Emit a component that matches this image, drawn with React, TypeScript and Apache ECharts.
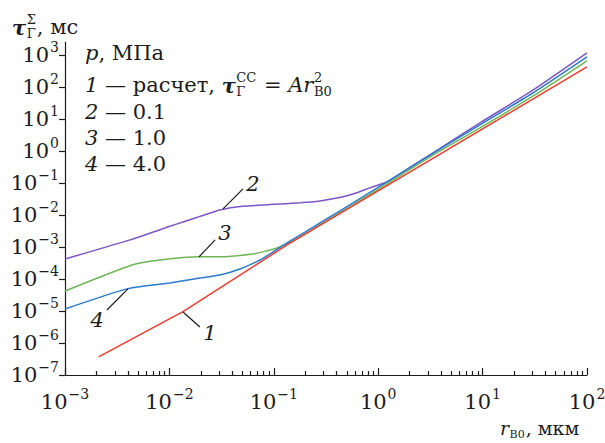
import React, { useEffect, useRef } from "react";
import * as echarts from "echarts";

// ---------- data ----------
const xTickValues = [1e-3, 1e-2, 1e-1, 1, 10, 100];
const xMinorTickValues = [
  0.002, 0.003, 0.004, 0.005, 0.006, 0.007, 0.008, 0.009,
  0.02, 0.03, 0.04, 0.05, 0.06, 0.07, 0.08, 0.09,
  0.2, 0.3, 0.4, 0.5, 0.6, 0.7, 0.8, 0.9,
  2, 3, 4, 5, 6, 7, 8, 9,
  20, 30, 40, 50, 60, 70, 80, 90,
];
const yTickValues = [1e-7, 1e-6, 1e-5, 1e-4, 1e-3, 1e-2, 1e-1, 1, 10, 100, 1000];

// curve 1: calculation tau = A r^2
const curve1X = [0.0021, 0.0135, 0.134, 100];
const curve1Y = [3.7e-7, 9.5e-6, 1.15e-3, 420];

// curve 2: p = 0.1 MPa
const curve2X = [0.001, 0.0042, 0.0101, 0.0135, 0.0196, 0.0305, 0.05, 0.092, 0.18, 0.277, 0.45, 0.574, 0.834, 1.21, 1.73, 3.5, 9.44, 30, 100];
const curve2Y = [4.2e-4, 1.66e-3, 4.4e-3, 6.0e-3, 9.0e-3, 1.42e-2, 1.85e-2, 2.1e-2, 2.4e-2, 2.74e-2, 3.6e-2, 4.5e-2, 7.0e-2, 0.107, 0.221, 0.95, 7.5, 77, 1150];

// curve 3: p = 1.0 MPa
const curve3X = [0.001, 0.00438, 0.00813, 0.0196, 0.0305, 0.0632, 0.085, 0.1074, 0.1527, 0.208, 0.3, 0.574, 1.73, 3.5, 9.44, 30, 100];
const curve3Y = [4.2e-5, 2.74e-4, 3.9e-4, 4.9e-4, 4.9e-4, 6.0e-4, 7.5e-4, 9.3e-4, 1.54e-3, 2.74e-3, 5.8e-3, 2.05e-2, 0.191, 0.8, 5.23, 50, 650];

// curve 4: p = 4.0 MPa
const curve4X = [0.001, 0.00393, 0.0101, 0.0196, 0.0305, 0.0474, 0.0738, 0.1, 0.1337, 0.208, 0.3, 0.574, 1.73, 3.5, 9.44, 30, 100];
const curve4Y = [1.15e-5, 4.9e-5, 7.5e-5, 1.07e-4, 1.33e-4, 2.05e-4, 3.9e-4, 7.2e-4, 1.33e-3, 3.16e-3, 6.6e-3, 2.37e-2, 0.221, 0.92, 6.5, 63, 866];

// curve number annotations: leader line start, end, label position
const curveLabels = ["1", "2", "3", "4"];
const leaderStart = [[0.0135, 9.3e-6], [0.0326, 0.0155], [0.0192, 4.87e-4], [0.00401, 4.87e-5]];
const leaderEnd = [[0.0196, 3.16e-6], [0.0507, 0.065], [0.0274, 1.66e-3], [0.00252, 1.07e-5]];
const labelPos = [[0.0245, 2.0e-6], [0.0632, 0.093], [0.0341, 2.74e-3], [0.00203, 5.2e-6]];

const legendTitle = "МПа";
const legendValues = ["0.1", "1.0", "4.0"];

// ---------- style ----------
const SERIF = '"DejaVu Serif", serif';
const INK = "#1c1c1c";
const COLORS = ["#f03c2e", "#7d55c7", "#6fb556", "#2b7bcc"];

function fontOf(kind: string, size: number) {
  const pre = kind === "i" ? "italic " : kind === "bi" ? "italic bold " : "";
  return `${pre}${size}px ${SERIF}`;
}

let measureCtx: CanvasRenderingContext2D | null = null;
function textWidth(t: string, font: string) {
  if (!measureCtx) measureCtx = document.createElement("canvas").getContext("2d");
  if (!measureCtx) return t.length * 10;
  measureCtx.font = font;
  return measureCtx.measureText(t).width;
}

type Piece = { t: string; f?: string; sub?: string; sup?: string };

function mathText(x0: number, y: number, pieces: Piece[], size: number, small: number) {
  const out: any[] = [];
  let x = x0;
  for (const p of pieces) {
    const font = fontOf(p.f || "r", size);
    out.push({
      type: "text", x, y, silent: true,
      style: { text: p.t, font, fill: INK, align: "left", verticalAlign: "middle" },
    });
    x += textWidth(p.t, font);
    if (p.sup || p.sub) {
      let w = 0;
      const sf = fontOf("r", small);
      if (p.sup) {
        out.push({
          type: "text", x: x + 0.5, y: y - size * 0.36, silent: true,
          style: { text: p.sup, font: sf, fill: INK, align: "left", verticalAlign: "middle" },
        });
        w = Math.max(w, textWidth(p.sup, sf));
      }
      if (p.sub) {
        out.push({
          type: "text", x: x + 0.5, y: y + size * 0.32, silent: true,
          style: { text: p.sub, font: sf, fill: INK, align: "left", verticalAlign: "middle" },
        });
        w = Math.max(w, textWidth(p.sub, sf));
      }
      x += w + 1.5;
    }
  }
  return out;
}

function powLabel(value: number) {
  const e = Math.round(Math.log10(value));
  const s = e < 0 ? "−" + String(-e) : String(e);
  return `{b|10}{e|${s}}`;
}

const labelRich = {
  b: { fontFamily: SERIF, fontSize: 21, color: INK, lineHeight: 30 },
  e: { fontFamily: SERIF, fontSize: 14, color: INK, verticalAlign: "top", padding: [0, 0, 0, 1] },
};

export default function App() {
  const ref = useRef<HTMLDivElement>(null);

  useEffect(() => {
    document.body.style.margin = "0";
    document.body.style.overflow = "hidden";
    if (!ref.current) return;
    const chart = echarts.init(ref.current, undefined, { renderer: "svg" });

    const curvesX = [curve1X, curve2X, curve3X, curve4X];
    const curvesY = [curve1Y, curve2Y, curve3Y, curve4Y];
    const order = [1, 2, 3, 0];

    const series = order.map((i) => ({
      type: "line",
      name: curveLabels[i],
      xAxisIndex: 0,
      yAxisIndex: 0,
      data: curvesX[i].map((x, k) => [x, curvesY[i][k]]),
      showSymbol: false,
      symbol: "none",
      smooth: i === 0 ? false : 0.2,
      lineStyle: { color: COLORS[i], width: 1.5 },
      itemStyle: { color: COLORS[i] },
      z: 3,
      markLine: {
        silent: true,
        symbol: ["none", "none"],
        label: { show: false },
        lineStyle: { color: INK, type: "solid", width: 1.2 },
        data: [[{ coord: leaderStart[i] }, { coord: leaderEnd[i] }]],
      },
      markPoint: {
        silent: true,
        symbol: "circle",
        symbolSize: 1,
        itemStyle: { color: "rgba(0,0,0,0)" },
        label: {
          show: true,
          position: "inside",
          formatter: curveLabels[i],
          fontFamily: SERIF,
          fontStyle: "italic",
          fontSize: 21,
          color: INK,
        },
        data: [{ coord: labelPos[i] }],
      },
    }));

    const legendX = 85;
    const legendSize = 21;
    const small = 13;
    const graphic: any[] = [
      ...mathText(12, 27, [{ t: "τ", f: "bi", sub: "Γ", sup: "Σ" }, { t: ", мс" }], 21, small),
      ...mathText(500, 428, [{ t: "r", f: "i", sub: "B0" }, { t: ", мкм" }], 19, 11),
      ...mathText(legendX, 53, [{ t: "p", f: "i" }, { t: ", " + legendTitle }], legendSize, small),
      ...mathText(
        legendX, 85,
        [
          { t: "1", f: "i" },
          { t: " — расчет, " },
          { t: "τ", f: "bi", sub: "Γ", sup: "CC" },
          { t: " = " },
          { t: "A", f: "i" },
          { t: "r", f: "i", sub: "B0", sup: "2" },
        ],
        legendSize, small
      ),
      ...mathText(legendX, 112, [{ t: "2", f: "i" }, { t: " — " + legendValues[0] }], legendSize, small),
      ...mathText(legendX, 138, [{ t: "3", f: "i" }, { t: " — " + legendValues[1] }], legendSize, small),
      ...mathText(legendX, 164, [{ t: "4", f: "i" }, { t: " — " + legendValues[2] }], legendSize, small),
    ];

    const axisLineStyle = { color: INK, width: 1.2 };

    chart.setOption({
      animation: false,
      backgroundColor: "#ffffff",
      grid: { left: 65, right: 18, top: 42, bottom: 68, containLabel: false, outerBoundsMode: "none" },
      xAxis: [
        {
          type: "log",
          logBase: 10,
          min: 1e-3,
          max: 100,
          position: "bottom",
          axisLine: { show: true, onZero: false, lineStyle: axisLineStyle },
          axisTick: { show: true, inside: true, length: 7, lineStyle: axisLineStyle, customValues: xTickValues },
          axisLabel: {
            show: true,
            customValues: xTickValues,
            formatter: powLabel,
            rich: labelRich,
            margin: 12,
          },
          splitLine: { show: false },
          minorTick: { show: false },
        },
        {
          type: "log",
          logBase: 10,
          min: 1e-3,
          max: 100,
          position: "bottom",
          axisLine: { show: false, onZero: false },
          axisTick: { show: true, inside: true, length: 4, lineStyle: axisLineStyle, customValues: xMinorTickValues },
          axisLabel: { show: false },
          splitLine: { show: false },
        },
      ],
      yAxis: {
        type: "log",
        logBase: 10,
        min: 1e-7,
        max: 2512,
        axisLine: { show: true, onZero: false, lineStyle: axisLineStyle },
        axisTick: { show: true, inside: false, length: 6, lineStyle: axisLineStyle, customValues: yTickValues },
        axisLabel: {
          show: true,
          customValues: yTickValues,
          formatter: powLabel,
          rich: labelRich,
          margin: 6,
        },
        splitLine: { show: false },
      },
      series,
      graphic,
    });

    return () => chart.dispose();
  }, []);

  return <div ref={ref} style={{ width: 605, height: 443 }} />;
}
